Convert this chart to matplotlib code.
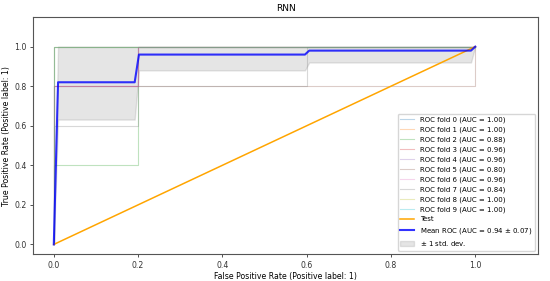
import numpy as np
import matplotlib
matplotlib.use("Agg")
import matplotlib.pyplot as plt

title = "RNN"
fold_fpr = [
    [0.0, 0.0, 1.0],
    [0.0, 0.0, 1.0],
    [0.0, 0.0, 0.2, 0.2, 1.0],
    [0.0, 0.0, 0.2, 0.2, 1.0],
    [0.0, 0.0, 0.2, 0.2, 1.0],
    [0.0, 0.0, 1.0, 1.0],
    [0.0, 0.0, 0.2, 0.2, 1.0],
    [0.0, 0.0, 0.2, 0.2, 0.6, 0.6, 1.0],
    [0.0, 0.0, 1.0],
    [0.0, 0.0, 1.0],
]
fold_tpr = [
    [0.0, 1.0, 1.0],
    [0.0, 1.0, 1.0],
    [0.0, 0.4, 0.4, 1.0, 1.0],
    [0.0, 0.8, 0.8, 1.0, 1.0],
    [0.0, 0.8, 0.8, 1.0, 1.0],
    [0.0, 0.8, 0.8, 1.0],
    [0.0, 0.8, 0.8, 1.0, 1.0],
    [0.0, 0.6, 0.6, 0.8, 0.8, 1.0, 1.0],
    [0.0, 1.0, 1.0],
    [0.0, 1.0, 1.0],
]
test_x = [0.0, 1.0]
test_y = [0.0, 1.0]

plt.rcParams['font.size'] = 5.6
fig, ax = plt.subplots(figsize=(5.5, 2.81), dpi=100)
fig.subplots_adjust(left=0.0595, right=0.979, top=0.9395, bottom=0.095)

mean_fpr = np.linspace(0, 1, 100)
tprs, aucs = [], []
for i, (f, t) in enumerate(zip(fold_fpr, fold_tpr)):
    a = np.trapezoid(t, f)
    aucs.append(a)
    ax.plot(f, t, lw=0.8, alpha=0.3, label=f"ROC fold {i} (AUC = {a:.2f})")
    it = np.interp(mean_fpr, f, t)
    it[0] = 0.0
    tprs.append(it)

ax.plot(test_x, test_y, color='orange', lw=1.1, label='Test')

mean_tpr = np.mean(tprs, axis=0)
mean_tpr[-1] = 1.0
mean_auc = np.mean(aucs)
std_auc = np.std(aucs)
ax.plot(mean_fpr, mean_tpr, color='b', lw=1.5, alpha=0.8,
        label=f"Mean ROC (AUC = {mean_auc:.2f} $\\pm$ {std_auc:.2f})")
std_tpr = np.std(tprs, axis=0)
upper = np.minimum(mean_tpr + std_tpr, 1)
lower = np.maximum(mean_tpr - std_tpr, 0)
ax.fill_between(mean_fpr, lower, upper, color='grey', alpha=0.2,
                label=r"$\pm$ 1 std. dev.")

ax.set_xlim(-0.05, 1.15)
ax.set_ylim(-0.05, 1.15)
ax.set_xticks([0, 0.2, 0.4, 0.6, 0.8, 1.0])
ax.set_yticks([0, 0.2, 0.4, 0.6, 0.8, 1.0])
ax.set_xlabel("False Positive Rate (Positive label: 1)", labelpad=2)
ax.set_ylabel("True Positive Rate (Positive label: 1)", labelpad=2)
ax.set_title(title, fontsize=6.5, pad=4)
ax.tick_params(length=2.5, width=0.6, pad=2, colors='#333333')
for s in ax.spines.values():
    s.set_linewidth(0.8)
    s.set_color('#555555')
ax.legend(loc='lower right', fontsize=5.0, handlelength=2.0,
          framealpha=0.8)

fig.savefig("out.png", dpi=100)
